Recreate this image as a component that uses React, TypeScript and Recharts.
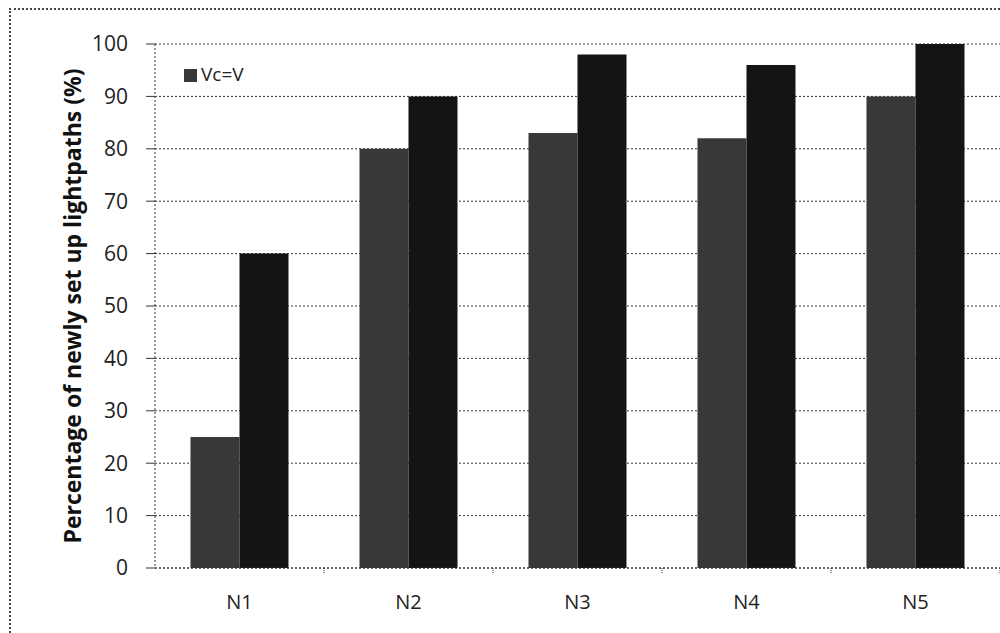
import { BarChart, Bar, XAxis, YAxis, CartesianGrid, Legend } from "recharts";

// values
const nodes = ["N1", "N2", "N3", "N4", "N5"];
const vcEqualV = [25, 80, 83, 82, 90];
const otherCase = [60, 90, 98, 96, 100];
const yTicks = [0, 10, 20, 30, 40, 50, 60, 70, 80, 90, 100];

const data = nodes.map((n, i) => ({ name: n, vc: vcEqualV[i], other: otherCase[i] }));

const W = 1000;
const H = 633;
const LEFT = 155;
const halfBand = (W - LEFT) / nodes.length / 2;

const XTick = (props: any) => {
  const { x, y, payload } = props;
  return (
    <g>
      <line x1={x + halfBand} x2={x + halfBand} y1={y - 8} y2={y - 2} stroke="#222" strokeDasharray="1 1" />
      <text x={x} y={y + 33} textAnchor="middle" fontSize={20} fill="#222" fontFamily="Open Sans">
        {payload.value}
      </text>
    </g>
  );
};

export default function App() {
  return (
    <div style={{ position: "fixed", left: 0, top: 0, width: W, height: H, background: "#fff", overflow: "hidden" }}>
      {/* outer frame of the scanned figure */}
      <div style={{ position: "absolute", left: 9, top: 8, width: 0, height: H - 8, borderLeft: "2px dotted #444" }} />
      <div style={{ position: "absolute", left: 9, top: 8, width: W - 9, height: 0, borderTop: "2px dotted #444" }} />
      <BarChart
        width={W}
        height={H}
        data={data}
        margin={{ top: 44, right: 0, bottom: 0, left: 0 }}
        barGap={0}
        barCategoryGap="21%"
        style={{ position: "absolute", left: 0, top: 0 }}
      >
        <CartesianGrid vertical={false} stroke="#333" strokeDasharray="2 2" />
        <XAxis
          dataKey="name"
          height={65}
          axisLine={{ stroke: "#333", strokeDasharray: "2 2" }}
          tickLine={false}
          tick={<XTick />}
          interval={0}
        />
        <YAxis
          width={LEFT}
          domain={[0, 100]}
          ticks={yTicks}
          interval={0}
          axisLine={{ stroke: "#333", strokeDasharray: "2 2" }}
          tickLine={{ stroke: "#333" }}
          tickSize={9}
          tickMargin={18}
          tick={{ fontSize: 21, fill: "#222", fontFamily: "Open Sans" }}
          label={{
            value: "Percentage of newly set up lightpaths (%)",
            angle: -90,
            position: "insideLeft",
            offset: 73,
            style: { textAnchor: "middle", fontSize: 23, fontWeight: "bold", fill: "#111", fontFamily: "Open Sans" },
          }}
        />
        <Legend
          layout="horizontal"
          verticalAlign="middle"
          align="center"
          iconType="square"
          iconSize={13}
          wrapperStyle={{ top: 61, left: 184, width: "auto", fontFamily: "Open Sans", fontSize: 19 }}
          formatter={(v: string) => <span style={{ color: "#222" }}>{v}</span>}
        />
        <Bar dataKey="vc" name="Vc=V" fill="#383838" isAnimationActive={false} />
        <Bar dataKey="other" name="other" fill="#141414" legendType="none" isAnimationActive={false} />
      </BarChart>
    </div>
  );
}
